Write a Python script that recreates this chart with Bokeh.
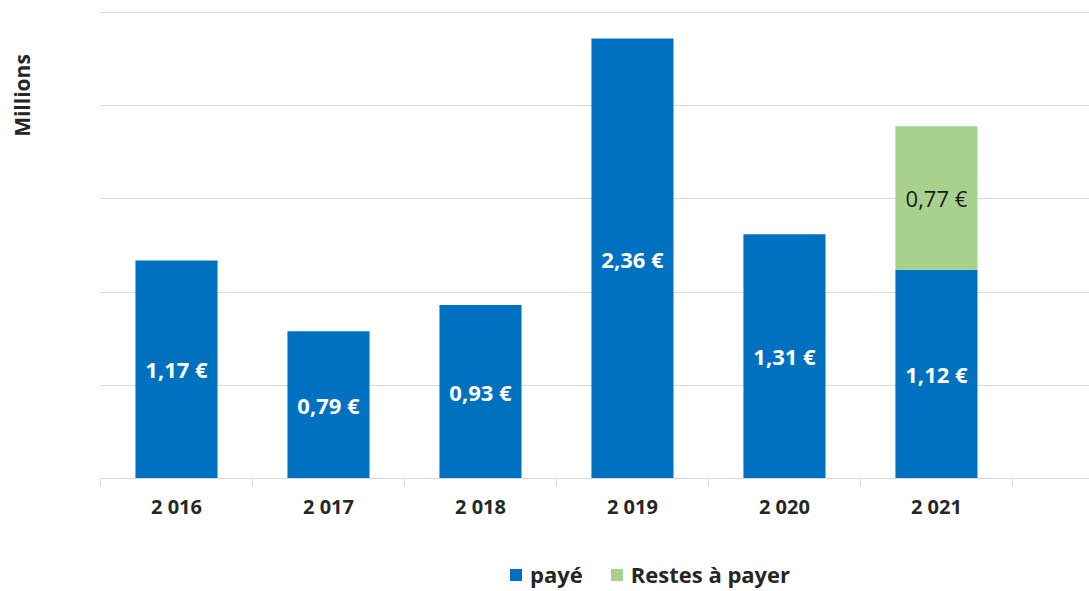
from bokeh.plotting import figure
from bokeh.layouts import column, row
from bokeh.models import (ColumnDataSource, FixedTicker, Range1d, Legend, LegendItem, Label)
from bokeh.core.properties import value
from bokeh.embed import file_html
from bokeh.resources import INLINE
import math

years = ["2 016", "2 017", "2 018", "2 019", "2 020", "2 021"]
paye = [1.17, 0.79, 0.93, 2.36, 1.31, 1.12]
restes = [0.0, 0.0, 0.0, 0.0, 0.0, 0.77]
grid_values = [0.0, 0.5, 1.0, 1.5, 2.0, 2.5]
series_names = ["payé", "Restes à payer"]
y_title = "Millions"

BLUE = "#0070C0"
GREEN = "#A9D18E"
GRID = "#D9D9D9"
FONT = "Open Sans"
TXT = "#262626"

xs = [i + 0.5 for i in range(len(years))]

def fmt(v):
    return f"{v:.2f} €".replace(".", ",")

src = ColumnDataSource(dict(x=xs, paye=paye, restes=restes))

# main plot
p = figure(width=989, height=550, output_backend="svg", toolbar_location=None,
           x_range=Range1d(0, 6.507), y_range=Range1d(0, 2.564),
           min_border_left=0, min_border_right=0, min_border_top=0, min_border_bottom=72)
p.outline_line_color = None
p.background_fill_color = "white"
p.border_fill_color = "white"

rs = p.vbar_stack(["paye", "restes"], x="x", width=0.54, source=src,
                  color=[BLUE, GREEN], line_color=None)

lab_paye = ColumnDataSource(dict(x=xs, y=[v / 2 for v in paye], t=[fmt(v) for v in paye]))
p.text(x="x", y="y", text="t", source=lab_paye, text_color="white",
       text_font=value(FONT), text_font_style="bold", text_font_size="22px",
       text_align="center", text_baseline="middle")
rx = [x for x, r in zip(xs, restes) if r > 0]
ry = [a + r / 2 for a, r in zip(paye, restes) if r > 0]
rt = [fmt(r) for r in restes if r > 0]
lab_restes = ColumnDataSource(dict(x=rx, y=ry, t=rt))
p.text(x="x", y="y", text="t", source=lab_restes, text_color="#1a1a1a",
       text_font=value(FONT), text_font_size="22px",
       text_align="center", text_baseline="middle")

p.yaxis.visible = False
p.xgrid.visible = False
p.ygrid.ticker = FixedTicker(ticks=grid_values)
p.ygrid.grid_line_color = GRID
p.ygrid.grid_line_width = 1

ax = p.xaxis[0]
ax.ticker = FixedTicker(ticks=xs, minor_ticks=list(range(len(years) + 1)))
ax.major_label_overrides = {x: y for x, y in zip(xs, years)}
ax.major_tick_out = 0
ax.major_tick_in = 0
ax.minor_tick_out = 8
ax.minor_tick_in = 0
ax.minor_tick_line_color = GRID
ax.axis_line_color = GRID
ax.major_label_text_font = FONT
ax.major_label_text_font_style = "bold"
ax.major_label_text_font_size = "20px"
ax.major_label_text_color = TXT
ax.major_label_standoff = 6

# left strip with the y title
l = figure(width=100, height=591, output_backend="svg", toolbar_location=None,
           x_range=Range1d(0, 1), y_range=Range1d(0, 1),
           min_border_left=0, min_border_right=0, min_border_top=0, min_border_bottom=0)
l.axis.visible = False
l.grid.visible = False
l.outline_line_color = None
l.add_layout(Label(x=21, y=591 - 95, x_units="screen", y_units="screen", text=y_title,
                   angle=math.pi / 2, text_align="center", text_baseline="middle",
                   text_font=FONT, text_font_style="bold", text_font_size="21px",
                   text_color=TXT))

# legend strip below
q = figure(width=989, height=41, output_backend="svg", toolbar_location=None,
           x_range=Range1d(0, 6.507), y_range=Range1d(10, 11),
           min_border_left=0, min_border_right=0, min_border_top=0, min_border_bottom=0)
q.axis.visible = False
q.grid.visible = False
q.outline_line_color = None
leg_r = q.vbar_stack(["paye", "restes"], x="x", width=0.54, source=src,
                     color=[BLUE, GREEN], line_color=None)
legend = Legend(items=[LegendItem(label=n, renderers=[r]) for n, r in zip(series_names, leg_r)],
                orientation="horizontal", location=(408, 2),
                glyph_width=15, glyph_height=15, label_standoff=7, spacing=26,
                label_text_font=FONT, label_text_font_style="bold",
                label_text_font_size="22px", label_text_color=TXT,
                label_height=15,
                border_line_color=None, background_fill_alpha=0, padding=0,
                margin=0)
q.add_layout(legend, "center")

layout = row(l, column(p, q, spacing=0), spacing=0)
open("out.html", "w").write(file_html(layout, INLINE))
